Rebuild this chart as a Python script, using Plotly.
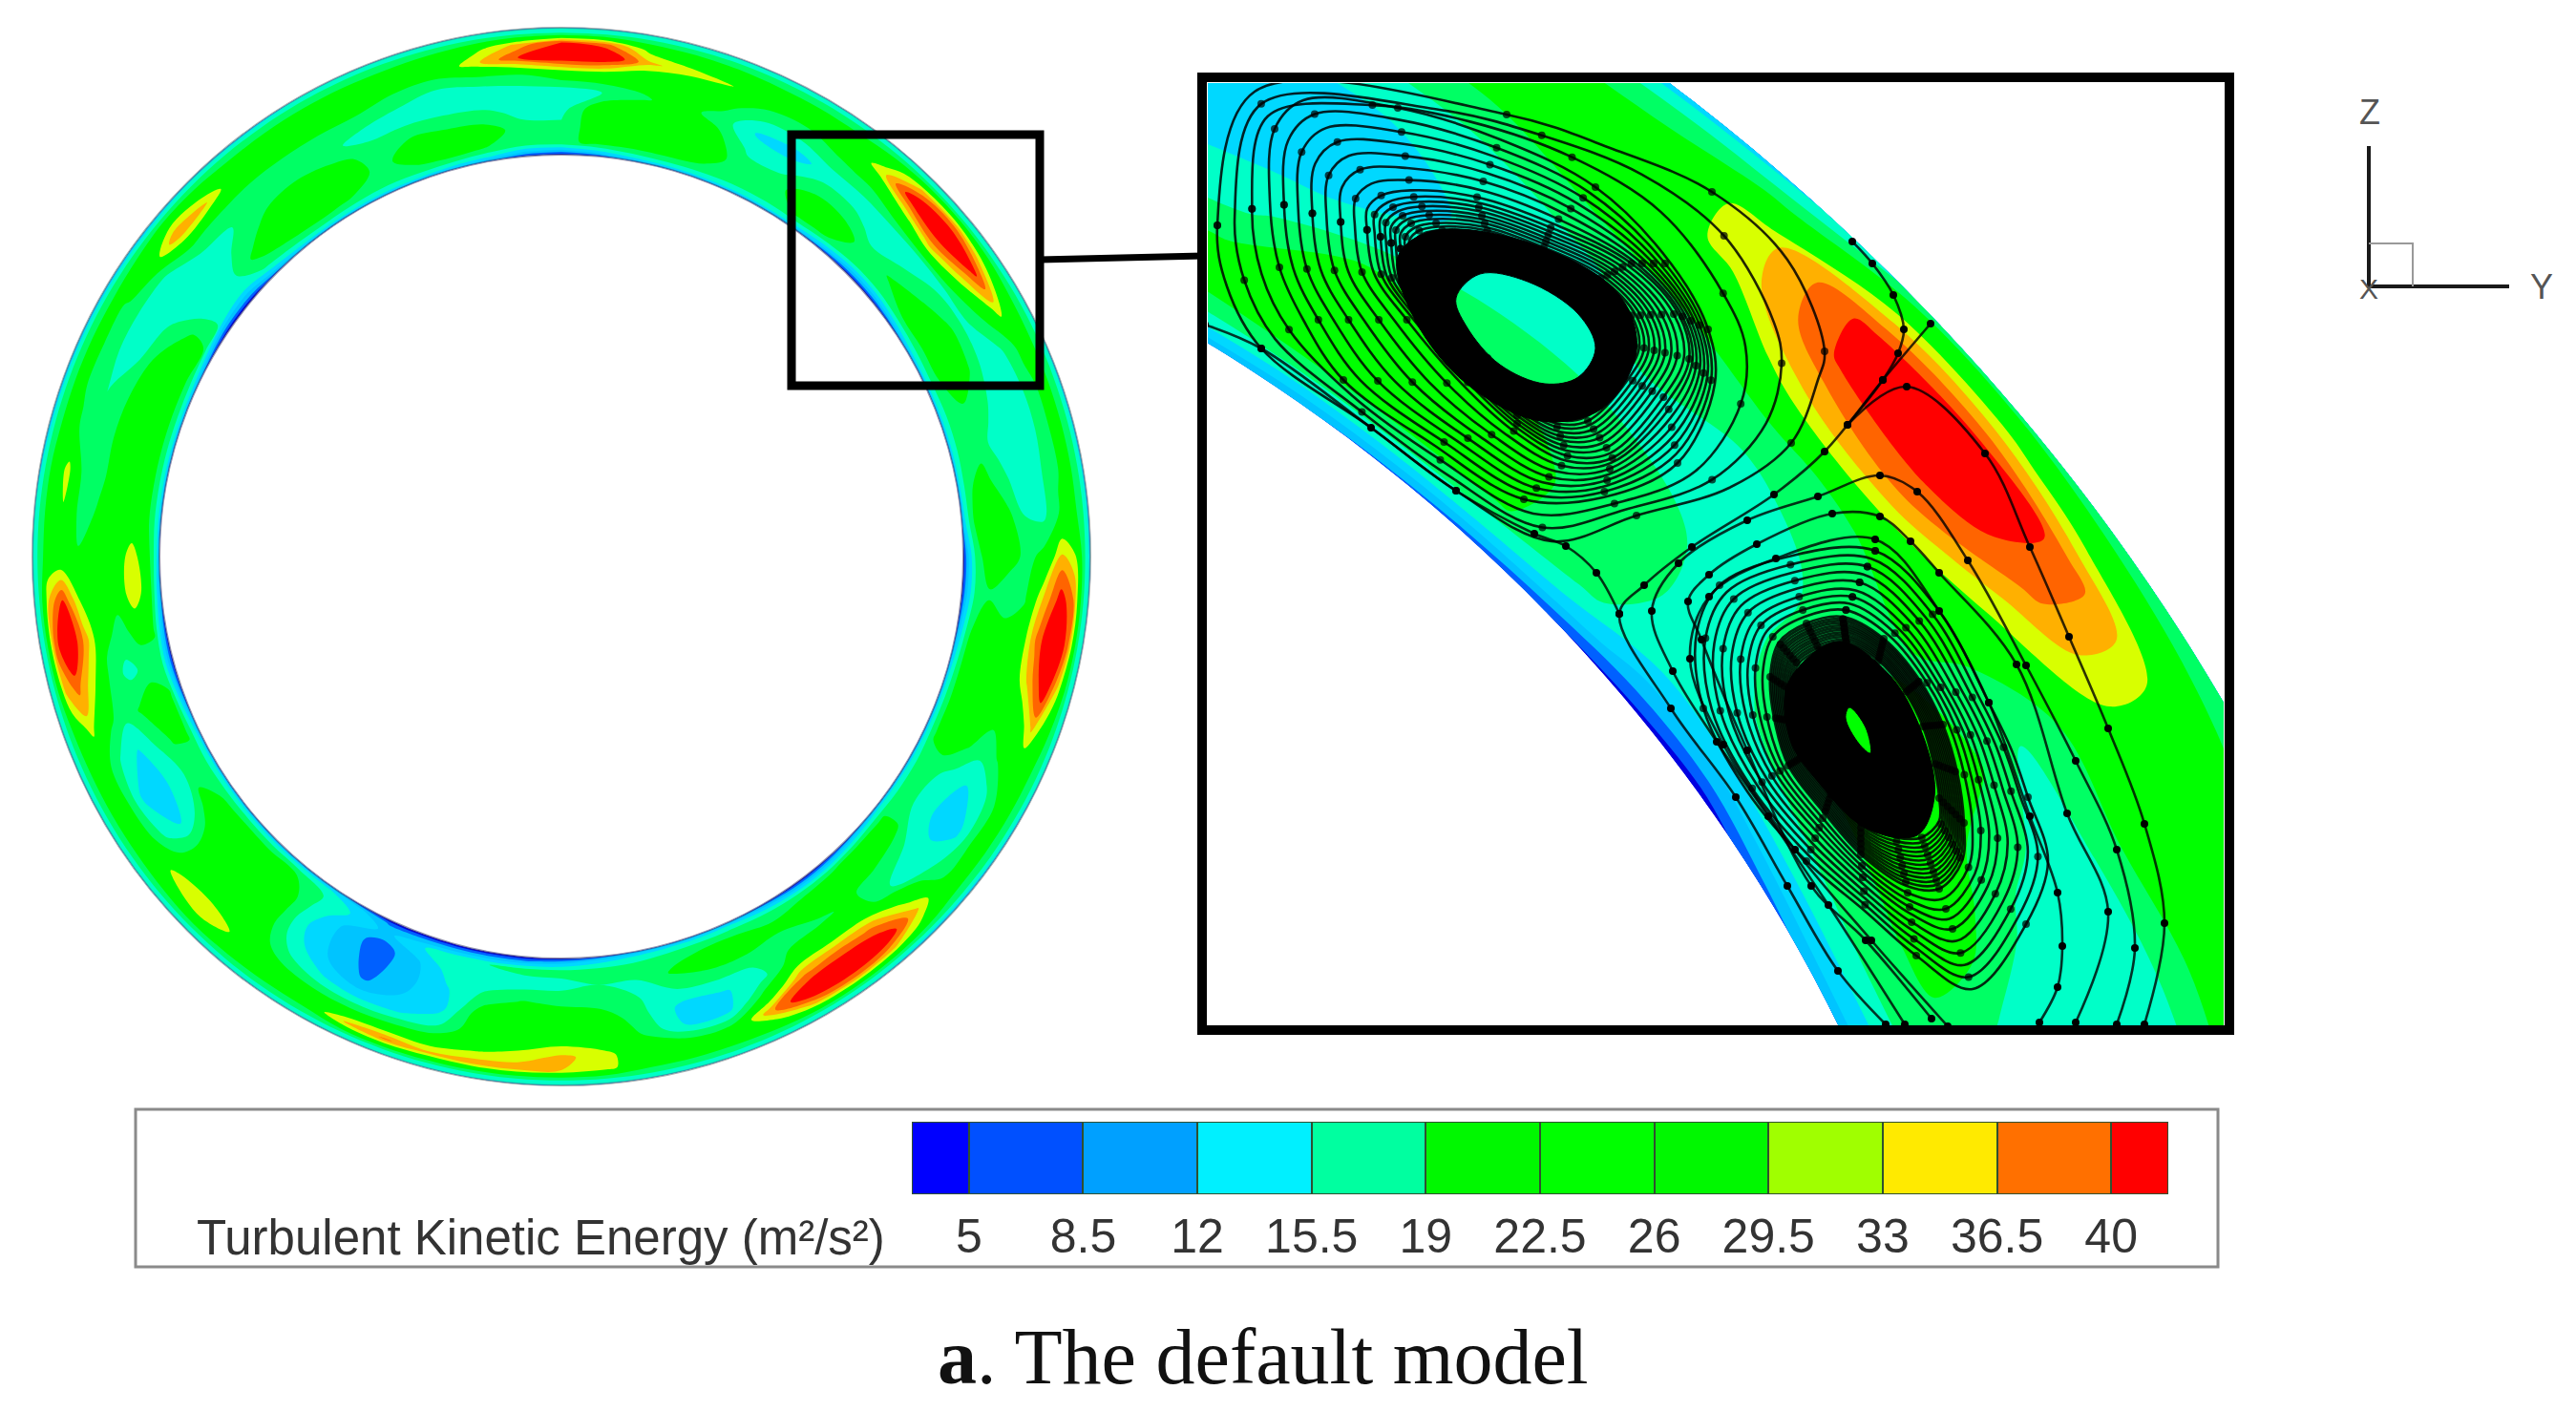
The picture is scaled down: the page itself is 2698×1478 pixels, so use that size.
import math
import plotly.graph_objects as go

W, H = 2698, 1478

# ---------- colour levels ----------
LEVEL_TICKS = [5, 8.5, 12, 15.5, 19, 22.5, 26, 29.5, 33, 36.5, 40]
TICK_TEXT = ["5", "8.5", "12", "15.5", "19", "22.5", "26", "29.5", "33", "36.5", "40"]
BAND_EDGES = [3.25] + LEVEL_TICKS + [41.75]
LEGEND_COLORS = ["#0000ff", "#0050ff", "#00a0ff", "#00f0ff", "#00ffa0", "#00f800",
                 "#00ff00", "#00f800", "#a0ff00", "#ffea00", "#ff7000", "#ff0000"]
FIELD_COLORS = ["#0000e0", "#0060ff", "#00c4ff", "#00d8ff", "#00ffc8", "#00ff64",
                "#00ff00", "#00ff00", "#d8ff00", "#ffb000", "#ff6400", "#ff0000"]

# ---------- full ring: one row every 5 degrees clockwise from the top ----------
RING_ANGLES = list(range(0, 365, 5))
RING_T = [0, .03, .1, .22, .36, .5, .64, .78, .88, .95, 1]
INNER_EDGE = [3, 5, 10, 11, 11, 11, 11, 9, 5, 3, 3, 5, 9, 11, 11, 11, 11, 9, 3, 3, 6, 10, 11, 11,
              11, 11, 9, 5, 3, 3, 6, 9, 10, 9, 8, 5, 3, 2, 2, 2, 2, 2, 6, 10, 11, 11, 11, 11,
              11, 10, 5, 3, 4, 8, 11, 11, 11, 11, 11, 9, 4, 2, 2, 6, 10, 11, 11, 11, 11, 10, 8, 4]
INNER_SKIN = [10, 13, 16, 17, 17, 17, 17, 16, 13, 10, 10, 13, 16, 17, 17, 17, 17, 16, 10, 10, 13, 16, 17, 17,
              17, 17, 16, 13, 10, 10, 13, 16, 16, 16, 15, 13, 10, 8, 8, 8, 8, 8, 13, 16, 17, 17, 17, 17,
              17, 16, 13, 10, 12, 15, 17, 17, 17, 17, 17, 16, 12, 8, 8, 13, 16, 17, 17, 17, 17, 16, 15, 11]
RING_MIDDLE = [
    [22, 20, 17.5, 17, 26, 46, 41], [23, 25, 26, 19, 26, 45, 38], [23, 26, 27, 22, 24, 34, 28],
    [23, 27, 27, 24, 24, 31, 26], [22, 24, 24, 21, 24, 30, 25], [21, 21, 18, 15, 20, 25, 24],
    [21, 21, 18, 14, 20, 24, 24], [23, 26, 21, 17, 22, 25, 24], [22, 26, 20, 17.5, 23, 32, 27],
    [20, 20, 18, 18, 28, 44, 34], [20, 23, 19, 18, 35, 46, 36], [22, 26, 21, 18, 30, 42, 30],
    [22, 26, 24, 18, 23, 32, 25], [22, 25, 23, 17.5, 18, 23, 24], [21, 22, 20, 17, 17, 22, 24],
    [21, 21, 18, 17, 17, 22, 24], [22, 24, 20, 17, 18, 22, 24], [23, 26, 24, 19, 18, 23, 24],
    [20, 26, 25, 21, 24, 34, 30], [19, 22, 19, 22, 33, 42, 37], [22, 25, 25, 25, 38, 46, 38],
    [23, 26, 27, 25, 34, 44, 32], [23, 26, 26, 24, 25, 34, 26], [23, 25, 23, 20, 23, 25, 24],
    [21, 20, 17, 15, 17, 23, 24], [21, 19, 16, 14, 15, 23, 24], [23, 24, 19, 17, 19, 23, 24],
    [23, 26, 21, 19, 27, 34, 28], [22, 26, 23, 25, 36, 44, 34], [22, 24, 22, 26, 38, 46, 36],
    [22, 23, 21, 25, 36, 45, 34], [22, 25, 20, 17, 24, 36, 27], [22, 25, 20, 15, 14, 24, 25],
    [21, 23, 19, 14.5, 15, 24, 25], [20, 19, 19, 20, 22, 25, 25], [20, 19, 21, 25, 26, 31, 31],
    [20, 18, 22, 26, 27, 34, 33], [20, 17.5, 23, 26, 26, 31, 35], [19, 17, 20, 25, 26, 29, 35],
    [18, 17, 15, 14, 18, 26, 34], [15, 11, 11, 12, 15, 25, 37], [11, 6.5, 7, 8, 14, 24, 34],
    [15, 11, 11, 12, 16, 24, 25], [19, 18, 16, 17, 20, 25, 25], [23, 26, 27, 26, 26, 28, 26],
    [23, 26, 27, 27, 26, 33, 28], [23, 26, 27, 26, 26, 31, 26], [22, 25, 19, 15.2, 18, 25, 25],
    [21, 20, 17, 13, 15, 24, 25], [23, 23, 19, 15, 18, 24, 25], [23, 26, 23, 20, 24, 31, 26],
    [21, 20, 18, 21, 30, 38, 34], [23, 24, 21, 24, 35, 46, 38], [26, 33, 24, 24, 29, 40, 34],
    [25, 32, 25, 24, 23, 25, 25], [23, 25, 25, 23, 21, 29, 25], [23, 25, 25, 22, 20, 31, 25],
    [23, 26, 26, 22, 19, 23, 24], [23, 26, 27, 21, 19, 22, 24], [23, 26, 25, 19, 18, 22, 24],
    [23, 24, 20, 18, 18, 22, 24], [18, 17, 17, 16.5, 18, 26, 25], [16, 18, 18, 17, 23, 36, 28],
    [20, 24, 20, 19, 22, 33, 26], [22, 26, 25, 20, 22, 25, 24], [23, 26, 26, 21, 22, 25, 24],
    [22, 26, 24, 20, 22, 25, 24], [21, 21, 21, 17.5, 22, 25, 24], [22, 25, 22, 17, 20, 25, 24],
    [23, 26, 21, 17, 19, 25, 25], [22, 25, 20, 17, 20, 32, 28], [21, 20, 18, 17, 22, 40, 34],
]
OUTER_SKIN = [20] * 72
OUTER_EDGE = [15, 15, 15, 15, 15, 15, 15, 15, 15, 15, 15, 15, 15, 15, 14, 14, 14, 14, 14, 15, 15, 15, 15, 15,
              14, 14, 13, 13, 14, 15, 15, 15, 15, 15, 15, 15, 15, 15, 15, 15, 15, 15, 15, 15, 15, 15, 15, 15,
              15, 15, 15, 15, 15, 15, 15, 15, 14, 13, 13, 13, 13, 13, 13, 14, 14, 14, 15, 15, 15, 15, 15, 15]

# ---------- zoomed segment: one row per angle ----------
INSET_ANGLES = [24, 28, 32, 36, 40, 44, 48, 52, 56, 60, 64, 68, 72, 76]
INSET_T = [0, .04, .1, .2, .3, .4, .5, .6, .7, .8, .88, .95, 1]
INSET_Z = [
    [10, 14, 22, 21, 17.5, 14, 14, 15, 17, 21, 24, 19, 14],
    [10, 14, 22, 21, 17.5, 14, 14, 15, 17, 21, 24, 19, 14],
    [10, 17, 23, 23, 18, 15, 13, 15, 19, 24, 24, 19, 14],
    [9, 17, 24, 25, 24, 16, 15, 16, 20, 25, 25, 20, 14],
    [8, 17, 24, 24, 23, 19, 17, 18, 23, 26, 25, 21, 14],
    [7, 16, 23, 23, 22, 19, 19, 21, 24, 31, 32, 23, 15],
    [5, 14, 20, 21, 20, 18, 18, 22, 33, 41, 42, 30, 20],
    [4, 10, 16, 17, 17, 18, 20, 23, 36, 43, 44, 31, 21],
    [3, 10, 17, 20, 24, 23, 22, 24, 30, 38, 39, 27, 20],
    [7, 13, 18, 22, 25, 25, 23, 19, 23, 30, 30, 24, 20],
    [10, 14, 19, 23, 25, 20, 17.5, 18, 24, 25, 24, 22, 19],
    [10, 14, 19, 22, 18, 17, 17, 17.5, 23, 25, 25, 23, 18],
    [10, 14, 19, 21, 17.5, 16, 16.5, 18, 24, 25, 25, 22, 17],
    [10, 14, 19, 21, 17.5, 16, 16.5, 18, 24, 25, 25, 22, 17],
]

# ---------- streamlines ----------
UP_WRAP_X = [1275, 1285, 1321, 1436, 1525, 1625, 1714, 1811, 1876, 1904, 1911, 1872, 1793, 1689, 1578, 1314]
UP_WRAP_Y = [236, 300, 365, 448, 514, 567, 540, 511, 464, 398, 368, 272, 201, 156, 120, 96]
UP_OUTER_X = [1330, 1340, 1365, 1407, 1500, 1596, 1679, 1757, 1796, 1789, 1750, 1671, 1571, 1464, 1365, 1335]
UP_OUTER_Y = [210, 280, 335, 398, 465, 523, 521, 485, 402, 345, 276, 196, 146, 113, 105, 135]
UP_CORE_X = [1436, 1443, 1478, 1536, 1589, 1643, 1689, 1746, 1768, 1757, 1707, 1625, 1546, 1478, 1450, 1436]
UP_CORE_Y = [242, 286, 335, 402, 451, 481, 478, 418, 375, 329, 276, 236, 209, 203, 209, 222]
UP_DENSE_X = [1498, 1502, 1523, 1558, 1589, 1622, 1649, 1684, 1697, 1690, 1660, 1611, 1564, 1523, 1506, 1498]
UP_DENSE_Y = [279, 306, 335, 375, 405, 423, 421, 385, 359, 331, 300, 276, 259, 256, 259, 267]
UP_LEVELS = [0, .33, .66, 1, 1.14, 1.28, 1.42, 1.56, 1.7, 1.84, 1.96, 2.06, 2.16, 2.25, 2.34, 2.42, 2.5, 2.58,
             2.65, 2.72, 2.79, 2.86, 2.93, 3]
UP_BLACK_X = [1464, 1500, 1607, 1696, 1714, 1678, 1614, 1536, 1482]
UP_BLACK_Y = [269, 242, 256, 309, 368, 428, 441, 402, 335]
UP_EYE_X = [1525, 1536, 1571, 1618, 1653, 1671, 1653, 1600, 1550]
UP_EYE_Y = [312, 342, 382, 402, 395, 365, 329, 295, 287]

LOW_OUTER_X = [1964, 2031, 2083, 2107, 2124, 2145, 2122, 2066, 2007, 1954, 1892, 1830, 1784, 1777, 1801, 1873]
LOW_OUTER_Y = [577, 640, 736, 786, 835, 902, 968, 1036, 1001, 955, 902, 829, 742, 663, 613, 583]
LOW_CORE_X = [1930, 1973, 2011, 2035, 2050, 2057, 2055, 2031, 1997, 1949, 1911, 1873, 1858, 1854, 1863, 1892]
LOW_CORE_Y = [646, 669, 713, 759, 809, 862, 902, 931, 928, 895, 852, 802, 752, 709, 673, 653]
LOW_DENSE_X = [1934, 1967, 1995, 2013, 2024, 2030, 2030, 2012, 1985, 1949, 1920, 1892, 1880, 1877, 1884, 1906]
LOW_DENSE_Y = [676, 693, 726, 761, 799, 835, 858, 875, 875, 860, 825, 790, 756, 724, 697, 682]
LOW_LEVELS = [0, .12, .24, .36, .48, .6, .7, .8, .9, 1, 1.08, 1.16, 1.24, 1.32, 1.4, 1.48, 1.56, 1.64, 1.72, 1.8, 1.88, 1.96]
LOW_BLACK_X = [1925, 1980, 2016, 2026, 2008, 1955, 1905, 1875, 1873]
LOW_BLACK_Y = [672, 708, 776, 835, 875, 868, 820, 775, 715]
LOW_EYE_X = [1937, 1933, 1947, 1959, 1954]
LOW_EYE_Y = [741, 752, 779, 789, 762]

OPEN_PATHS = [
    ([1975, 1925, 1872, 1818, 1750, 1696, 1722, 1772, 1858, 1911, 1972, 2022],
     [1073, 1017, 928, 835, 742, 643, 613, 573, 518, 473, 398, 339]),
    ([1935, 1997, 2079, 2126, 2167, 2208, 2246, 2267, 2246],
     [445, 405, 475, 573, 667, 763, 863, 967, 1073]),
    ([1995, 1915, 1852, 1798, 1752, 1730, 1758, 1830, 1904, 1969, 2008, 2061, 2122, 2174, 2217, 2236, 2217],
     [1073, 948, 855, 777, 703, 640, 590, 545, 520, 498, 515, 587, 697, 797, 890, 993, 1073]),
    ([2023, 1954, 1897, 1830, 1782, 1768, 1790, 1840, 1919, 1969, 2001, 2031, 2112, 2165, 2208, 2174],
     [1067, 985, 928, 786, 670, 630, 602, 570, 538, 541, 567, 600, 696, 852, 955, 1071]),
    ([2040, 1960, 1880, 1805, 1770, 1790, 1860, 1964, 2031, 2083, 2126, 2155, 2160, 2155, 2136],
     [1075, 985, 890, 780, 690, 625, 585, 565, 640, 736, 855, 935, 991, 1034, 1071]),
    ([1262, 1321, 1436, 1525, 1607, 1640, 1672, 1696],
     [340, 365, 448, 514, 559, 572, 600, 643]),
    ([1940, 1961, 1983, 1994, 1988, 1972, 1935],
     [253, 276, 309, 345, 370, 398, 445]),
]

# ---------- furniture ----------
TRIAD_X = [2481, 2481, 2628]
TRIAD_Y = [153, 300, 300]
TRIAD_BOX_X = [2481, 2527, 2527]
TRIAD_BOX_Y = [255, 255, 300]


def scale_ticks():
    return [[i / 11, c] for i, c in enumerate(FIELD_COLORS)]


def ring_grid(cx, cy, rx_in, ry_in, rx_out, ry_out, angles, ts):
    xs, ys = [], []
    for ang in angles:
        s, c = math.sin(math.radians(ang)), math.cos(math.radians(ang))
        xs.append([cx + (rx_in + t * (rx_out - rx_in)) * s for t in ts])
        ys.append([cy - (ry_in + t * (ry_out - ry_in)) * c for t in ts])
    return xs, ys


HIDDEN = dict(showgrid=False, showline=False, showticklabels="none", startline=False, endline=False,
              minorgridcount=0, tickmode="array", tickvals=[], ticktext=[], smoothing=1,
              gridwidth=0, linewidth=0)


def add_field(fig, name, xs, ys, a, b, z, xaxis, yaxis):
    fig.add_trace(go.Carpet(a=a, b=b, x=xs, y=ys, carpet=name, aaxis=HIDDEN, baxis=HIDDEN,
                            xaxis=xaxis, yaxis=yaxis))
    fig.add_trace(go.Contourcarpet(a=a, b=b, z=z, carpet=name, autocontour=False,
                                   contours=dict(start=5, end=40, size=3.5, coloring="fill", showlines=False),
                                   line=dict(width=0), colorscale=scale_ticks(), showscale=False,
                                   xaxis=xaxis, yaxis=yaxis))


fig = go.Figure()

# main ring
ring_rows = [[INNER_EDGE[i], INNER_SKIN[i]] + RING_MIDDLE[i] + [OUTER_SKIN[i], OUTER_EDGE[i]] for i in range(72)]
ring_rows.append(ring_rows[0])
rx, ry = ring_grid(588, 583, 421, 421, 554, 554, RING_ANGLES, RING_T)
add_field(fig, "ring", rx, ry, RING_T, RING_ANGLES, ring_rows, "x", "y")

# inset field
ix, iy = ring_grid(263, 1772, 1825, 1690, 2350, 2175, INSET_ANGLES, INSET_T)
add_field(fig, "inset", ix, iy, INSET_T, INSET_ANGLES, INSET_Z, "x2", "y2")


def rail_point(rails, level, k):
    i = min(int(level), len(rails) - 2)
    w = level - i
    return rails[i][k] * (1 - w) + rails[i + 1][k] * w


def add_black(ox, oy, ex, ey):
    fig.add_trace(go.Scatter(x=ox + ox[:1] + [None] + ex + ex[:1], y=oy + oy[:1] + [None] + ey + ey[:1],
                             mode="lines", fill="toself", fillcolor="#000000",
                             line=dict(color="#000000", width=1, shape="spline", smoothing=1),
                             xaxis="x2", yaxis="y2", hoverinfo="skip", showlegend=False))


add_black(UP_BLACK_X, UP_BLACK_Y, UP_EYE_X, UP_EYE_Y)
add_black(LOW_BLACK_X, LOW_BLACK_Y, LOW_EYE_X, LOW_EYE_Y)


def add_loops(rails_x, rails_y, levels):
    for j, lv in enumerate(levels):
        xs = [rail_point(rails_x, lv, k) for k in range(len(rails_x[0]))]
        ys = [rail_point(rails_y, lv, k) for k in range(len(rails_y[0]))]
        sizes = [8 if (k + j) % 2 == 0 else 0 for k in range(len(xs) + 1)]
        fig.add_trace(go.Scatter(x=xs + xs[:1], y=ys + ys[:1], mode="lines+markers",
                                 line=dict(color="rgba(0,0,0,0.85)", width=2.6, shape="spline", smoothing=1),
                                 marker=dict(color="#000000", size=sizes, line=dict(width=0)),
                                 xaxis="x2", yaxis="y2", hoverinfo="skip", showlegend=False))


add_loops([UP_WRAP_X, UP_OUTER_X, UP_CORE_X, UP_DENSE_X], [UP_WRAP_Y, UP_OUTER_Y, UP_CORE_Y, UP_DENSE_Y], UP_LEVELS)
add_loops([LOW_OUTER_X, LOW_CORE_X, LOW_DENSE_X], [LOW_OUTER_Y, LOW_CORE_Y, LOW_DENSE_Y], LOW_LEVELS)

for px, py in OPEN_PATHS:
    fig.add_trace(go.Scatter(x=px, y=py, mode="lines+markers",
                             line=dict(color="rgba(0,0,0,0.8)", width=2.6, shape="spline", smoothing=1),
                             marker=dict(color="#000000", size=8),
                             xaxis="x2", yaxis="y2", hoverinfo="skip", showlegend=False))

# legend bar
centers = [(BAND_EDGES[i] + BAND_EDGES[i + 1]) / 2 for i in range(12)]
widths = [BAND_EDGES[i + 1] - BAND_EDGES[i] for i in range(12)]
fig.add_trace(go.Bar(x=centers, y=[1] * 12, width=widths,
                     marker=dict(color=LEGEND_COLORS, line=dict(color="#305030", width=2)),
                     xaxis="x3", yaxis="y3", hoverinfo="skip", showlegend=False))

# coordinate triad
fig.add_trace(go.Scatter(x=TRIAD_X, y=TRIAD_Y, mode="lines", line=dict(color="#1a1a1a", width=4),
                         xaxis="x", yaxis="y", hoverinfo="skip", showlegend=False))
fig.add_trace(go.Scatter(x=TRIAD_BOX_X, y=TRIAD_BOX_Y, mode="lines", line=dict(color="#999999", width=2),
                         xaxis="x", yaxis="y", hoverinfo="skip", showlegend=False))

OFF = dict(visible=False, showgrid=False, zeroline=False, fixedrange=True)
shapes = [
    dict(type="circle", xref="x", yref="y", x0=34, x1=1142, y0=29, y1=1137,
         line=dict(color="rgba(90,110,110,0.55)", width=2), layer="above"),
    dict(type="circle", xref="x", yref="y", x0=167, x1=1009, y0=162, y1=1004,
         line=dict(color="rgba(60,60,110,0.55)", width=2), layer="above"),
    dict(type="rect", xref="x", yref="y", x0=829, x1=1089, y0=141, y1=404, line=dict(color="#000", width=9), layer="above"),
    dict(type="line", xref="x", yref="y", x0=1089, x1=1260, y0=272, y1=268, line=dict(color="#000", width=7), layer="above"),
    dict(type="rect", xref="x", yref="y", x0=1259, x1=2335, y0=81, y1=1079, line=dict(color="#000", width=10), layer="above"),
    dict(type="rect", xref="x", yref="y", x0=142, x1=2323, y0=1162, y1=1327, line=dict(color="#8a8a8a", width=3), layer="below"),
]
labels = [
    dict(x=2482, y=117, text="Z", size=36, color="#555555", family="Liberation Sans"),
    dict(x=2662, y=300, text="Y", size=36, color="#555555", family="Liberation Sans"),
    dict(x=2481, y=302, text="X", size=30, color="#555555", family="Liberation Sans"),
    dict(x=566, y=1296, text="Turbulent Kinetic Energy (m²/s²)", size=51, color="#333333", family="Liberation Sans"),
    dict(x=1323, y=1421, text="<b>a</b>. The default model", size=82, color="#111111", family="Liberation Serif"),
]
annotations = [dict(x=l["x"], y=l["y"], xref="x", yref="y", text=l["text"], showarrow=False,
                    font=dict(size=l["size"], color=l["color"], family=l["family"]),
                    xanchor="center", yanchor="middle") for l in labels]

fig.update_layout(
    width=W, height=H, margin=dict(l=0, r=0, t=0, b=0), paper_bgcolor="white", plot_bgcolor="white",
    showlegend=False, bargap=0, barmode="overlay", shapes=shapes, annotations=annotations,
    xaxis=dict(domain=[0, 1], range=[0, W], **OFF),
    yaxis=dict(domain=[0, 1], range=[H, 0], **OFF),
    xaxis2=dict(domain=[1265 / W, 2329 / W], range=[1265, 2329], anchor="y2", **OFF),
    yaxis2=dict(domain=[1 - 1074 / H, 1 - 87 / H], range=[1074, 87], anchor="x2", **OFF),
    xaxis3=dict(domain=[955 / W, 2271 / W], range=[3.25, 41.75], anchor="y3", showgrid=False, zeroline=False,
                showline=False, ticks="", tickmode="array", tickvals=LEVEL_TICKS, ticktext=TICK_TEXT,
                ticklabelstandoff=10,
                tickfont=dict(size=50, color="#333333", family="Liberation Sans"), fixedrange=True),
    yaxis3=dict(domain=[1 - 1251 / H, 1 - 1175 / H], range=[0, 1], anchor="x3", **OFF),
)

fig.write_html("out.html", post_script="document.body.style.margin='0';document.body.style.overflow='hidden';",
               config=dict(displayModeBar=False))
